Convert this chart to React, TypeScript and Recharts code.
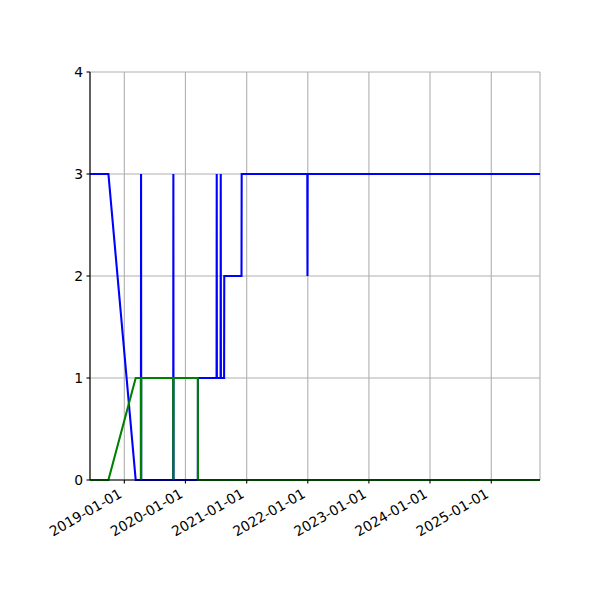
import React from 'react';
import { LineChart, Line, XAxis, YAxis, CartesianGrid } from 'recharts';

const dates = [
  '2018-06-10', '2018-09-28', '2019-03-10', '2019-04-10', '2019-04-11', '2019-04-12',
  '2019-10-20', '2019-10-21', '2019-10-22', '2020-03-15', '2020-03-16',
  '2020-07-05', '2020-07-06', '2020-07-07', '2020-07-29', '2020-07-30', '2020-07-31',
  '2020-08-19', '2020-08-20', '2020-12-01', '2020-12-02',
  '2021-12-29', '2021-12-30', '2021-12-31', '2025-10-19',
];
const blueValues = [3, 3, 0, 0, 3, 0, 0, 3, 0, 0, 1, 1, 3, 1, 1, 3, 1, 1, 2, 2, 3, 3, 2, 3, 3];
const greenValues = [0, 0, 1, 1, 0, 1, 1, 0, 1, 1, 0, 0, 0, 0, 0, 0, 0, 0, 0, 0, 0, 0, 0, 0, 0];

const xTickLabels = ['2019-01-01', '2020-01-01', '2021-01-01', '2022-01-01', '2023-01-01', '2024-01-01', '2025-01-01'];
const yTicks = [0, 1, 2, 3, 4];
const xStart = '2018-06-10';
const xEnd = '2025-10-19';

const toTs = (s: string) => Date.parse(s + 'T00:00:00Z');
const rows = dates.map((d, i) => ({ t: toTs(d), blue: blueValues[i], green: greenValues[i] }));
const xTicks = xTickLabels.map(toTs);
const fmt = (v: number) => new Date(v).toISOString().slice(0, 10);

const FONT = 'DejaVu Sans';

const DateTick = (props: any) => {
  const { x, y, payload } = props;
  const ax = x - 1.5;
  const ay = y + 13;
  return (
    <text
      x={ax}
      y={ay}
      textAnchor="end"
      fontFamily={FONT}
      fontSize={13.9}
      fill="#000"
      transform={`rotate(-30 ${ax} ${ay})`}
    >
      {fmt(payload.value)}
    </text>
  );
};

export default function App() {
  return (
    <div style={{ position: 'absolute', left: 0, top: 0, width: 600, height: 600, background: '#fff' }}>
      <LineChart
        width={600}
        height={600}
        data={rows}
        margin={{ top: 72, right: 60, bottom: 0, left: 0 }}
      >
        <CartesianGrid stroke="#b0b0b0" strokeWidth={1.1} />
        <XAxis
          dataKey="t"
          type="number"
          scale="linear"
          domain={[toTs(xStart), toTs(xEnd)]}
          ticks={xTicks}
          allowDataOverflow
          height={120}
          tickSize={3.5}
          tickMargin={0}
          tick={<DateTick />}
          tickLine={{ stroke: '#000', strokeWidth: 1.1 }}
          axisLine={{ stroke: '#000', strokeWidth: 1.1 }}
          interval={0}
        />
        <XAxis
          xAxisId="top"
          orientation="top"
          dataKey="t"
          type="number"
          domain={[toTs(xStart), toTs(xEnd)]}
          allowDataOverflow
          height={0}
          tick={false}
          tickLine={false}
          axisLine={{ stroke: '#000', strokeWidth: 1.1 }}
        />
        <YAxis
          type="number"
          domain={[0, 4]}
          ticks={yTicks}
          width={90}
          tickSize={3.5}
          tickMargin={3.5}
          interval={0}
          tick={{ fill: '#000', fontFamily: FONT, fontSize: 13.9 }}
          tickLine={{ stroke: '#000', strokeWidth: 1.1 }}
          axisLine={{ stroke: '#000', strokeWidth: 1.1 }}
        />
        <YAxis
          yAxisId="right"
          orientation="right"
          type="number"
          domain={[0, 4]}
          width={0}
          tick={false}
          tickLine={false}
          axisLine={{ stroke: '#000', strokeWidth: 1.1 }}
        />
        <Line
          type="linear"
          dataKey="blue"
          stroke="#0000ff"
          strokeWidth={2.08}
          dot={false}
          activeDot={false}
          isAnimationActive={false}
        />
        <Line
          type="linear"
          dataKey="green"
          stroke="#008000"
          strokeWidth={2.08}
          dot={false}
          activeDot={false}
          isAnimationActive={false}
        />
      </LineChart>
    </div>
  );
}
